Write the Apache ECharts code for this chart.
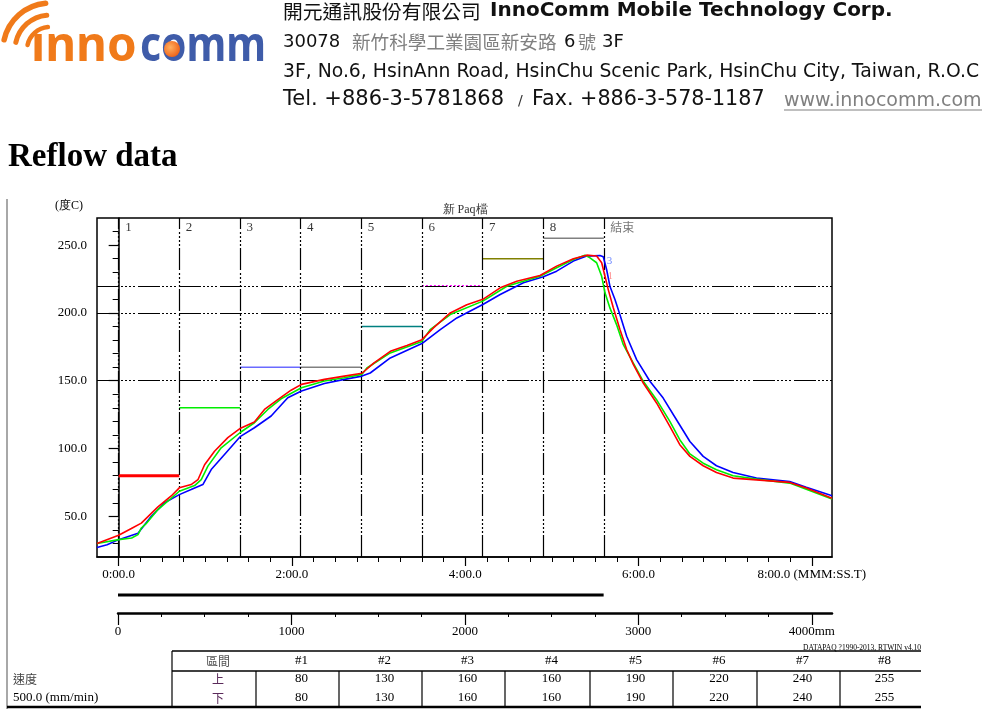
<!DOCTYPE html>
<html><head><meta charset="utf-8">
<script src="https://cdn.jsdelivr.net/npm/echarts@6/dist/echarts.min.js"></script>
<style>html,body{margin:0;padding:0;background:#fff;}#c{width:989px;height:709px;}</style>
</head><body><div id="c"></div>
<script>
// ---------- data ----------
const zoneNames = ['1','2','3','4','5','6','7','8'];
const endZoneName = '結束';
const tableHeads = ['#1','#2','#3','#4','#5','#6','#7','#8'];
const upperTemps = [80,130,160,160,190,220,240,255];
const lowerTemps = [80,130,160,160,190,220,240,255];
const conveyorSpeed = 500;      // mm/min
const zoneLengthMm = 350;
const refTemps = [150,200,220];
const timeLabelValues = [0,120,240,360,480];
const timeLabels = ['0:00.0','2:00.0','4:00.0','6:00.0','8:00.0 (MMM:SS.T)'];
const distLabelValues = [0,1000,2000,3000,4000];
const distLabels = ['0','1000','2000','3000','4000mm'];
const tempLabelValues = [50,100,150,200,250];
const timeMin = -15, timeMax = 494, tempMin = 20, tempMax = 270;

const redTime  = [-15,0,8.8,15.7,27.2,36.4,42,50.2,54.9,59.5,66.4,75.6,84.4,94,101,110.2,119.4,126.6,142.5,156.3,168.5,176.6,188.1,199.6,210,218,229.6,241.1,252.2,264.2,275.7,291.8,303.3,314.9,324.1,331,334.5,336.8,339.1,342.5,347.1,351.8,356.4,363.3,372.5,381.7,388.6,395.6,404.8,414,425.5,441.7,464.7,476.2,494];
const redTemp  = [30,36,41,45,57,65,71,73.4,77,88,98,108,115,119.5,128.8,136,143,147.3,151,153.4,155.5,163,171.7,176,180.3,189,200,206,210,218.5,223.4,227.6,234.5,240,242.6,242,237,227,217,204,188,173,162,148.3,133.6,116.3,102.8,94.2,87.3,82.3,78.2,76.9,75,70.8,63.4];
const greenTime = [-15,0,9,13.4,15.7,19,27.2,42,52.6,57.2,61.8,71,84.4,94,103.3,112.5,126.6,142.5,156.3,168.5,171.9,188.1,210,215.7,229.6,252.2,268.8,291.8,303.3,314.9,322.9,326.4,331,334.5,336.8,340.2,344.8,349.5,356.4,363.3,372.5,381.7,388.6,395.6,404.8,414,425.5,441.7,464.7,476.2,494];
const greenTemp = [30,32.8,34,36.5,41.4,44.6,55,68.5,72.7,77,87,100.5,112,119,128.8,136.7,144.8,149.8,152.2,154.7,159.4,170.5,179,187.7,198.8,208.7,219.7,227,233.3,239.4,242.6,240.6,237,227,214.8,203.7,191.4,176.6,163,149.6,136,120,106.5,96,89.2,84.3,79.9,77.4,74.5,70,62.7];
const blueTime = [-15,-8,0,13.4,22.6,31.8,42,50.2,58.3,64.1,73.3,84.4,94,105.6,117.1,126.6,142.5,156.3,168.5,174.2,188.1,210,222.7,234.2,252.2,264.2,280.3,294.1,303.3,314.9,324.1,333.3,335.6,337.9,340.2,343.7,347.1,351.8,358.7,367.9,377.1,386.3,395.6,404.8,414,425.5,441.7,464.7,476.2,494];
const blueTemp = [27,29,32.8,37.5,50,60,66,69.7,73.4,84.5,95.6,109,115.3,124,137.4,142.4,148,151,153.4,155.7,166.8,177.4,187.7,196.3,206.2,213.6,222.2,226.6,230.8,238.2,241.9,242.4,241.4,232,219.7,209.9,198.8,182.8,165.6,149.6,137.2,121.2,105.2,94.2,87.3,82.3,78.2,75.7,71.5,65.1];

// ---------- styles ----------
const zoneColors = ['#ff0000','#00ee00','#6a6aff','#808080','#008080','#ff00ff','#808000','#808080'];
const zoneWidths = [3,1.5,1.5,1.5,1.5,1.5,1.5,1.5];
const zoneDash = ['solid','solid','solid','solid','solid',[2,2],'solid','solid'];
const serif = '"Liberation Serif", "Times New Roman", serif';
const cjk = '"Noto Sans CJK TC", "Noto Sans CJK SC", sans-serif';
const dashPattern = [22,2,2,2,2,2,2,2,2,3];

// ---------- derived ----------
const zoneSec = zoneLengthMm / conveyorSpeed * 60;
const zoneBounds = zoneNames.map((_, i) => i * zoneSec).concat([zoneNames.length * zoneSec]);
const ovenLength = zoneLengthMm * zoneNames.length;
const distMax = timeMax * conveyorSpeed / 60;
const range = (a, b, s) => { const r = []; for (let v = a; v <= b + 1e-9; v += s) r.push(v); return r; };
const pairs = (ts, vs) => ts.map((t, i) => [t, vs[i]]);

const chart = echarts.init(document.getElementById('c'), null, {renderer: 'canvas'});

const series = [];
// reference lines
series.push({
  type: 'line', xAxisIndex: 0, yAxisIndex: 0, data: [], z: 3, silent: true,
  markLine: {
    silent: true, symbol: ['none','none'], label: {show: false}, animation: false,
    lineStyle: {color: '#000', width: 1.2, type: dashPattern},
    emphasis: {disabled: true},
    data: refTemps.map(v => ({yAxis: v})).concat(zoneBounds.map(v => ({xAxis: v})))
  }
});
// setpoint segments
upperTemps.forEach((v, i) => {
  series.push({
    type: 'line', xAxisIndex: 0, yAxisIndex: 0, showSymbol: false, silent: true, z: i === 5 ? 2 : 4,
    data: [[zoneBounds[i], v], [zoneBounds[i + 1], v]],
    lineStyle: {color: zoneColors[i], width: zoneWidths[i], type: zoneDash[i]}
  });
});
// zone labels
series.push({
  type: 'scatter', xAxisIndex: 0, yAxisIndex: 0, symbolSize: 1, itemStyle: {color: 'rgba(0,0,0,0)'}, silent: true, z: 6,
  data: zoneBounds.map((b, i) => ({
    value: [b, tempMax - 7],
    label: {show: true, position: 'right', distance: 6,
      formatter: i < zoneNames.length ? zoneNames[i] : endZoneName,
      fontFamily: i < zoneNames.length ? serif : cjk,
      fontSize: i < zoneNames.length ? 13 : 12,
      color: i < zoneNames.length ? '#000' : '#555'}
  }))
});
// curves
[['#ff0000', redTime, redTemp], ['#00ee00', greenTime, greenTemp], ['#0000ff', blueTime, blueTemp]].forEach(([c, ts, vs], k) => {
  series.push({
    type: 'line', xAxisIndex: 0, yAxisIndex: 0, showSymbol: false, silent: true, z: 10 + (2 - k),
    data: pairs(ts, vs), lineStyle: {color: c, width: 1.6}
  });
});
// curve tags
series.push({
  type: 'scatter', xAxisIndex: 0, yAxisIndex: 0, symbolSize: 1, itemStyle: {color: 'rgba(0,0,0,0)'}, silent: true, z: 14,
  data: [
    {value: [340, 238], label: {show: true, formatter: '3', position: 'inside', color: '#4a6aff', fontSize: 11, fontFamily: serif}},
    {value: [340.5, 227], label: {show: true, formatter: '1', position: 'inside', color: '#ff7070', fontSize: 10, fontFamily: serif}}
  ]
});
// oven length bar
series.push({
  type: 'line', xAxisIndex: 4, yAxisIndex: 3, showSymbol: false, silent: true,
  data: [[0, 0], [ovenLength, 0]], lineStyle: {color: '#000', width: 3}
});

// ---------- graphic: header, logo, table ----------
const g = [];
g.push({type: 'line', shape: {x1: 7, y1: 199, x2: 7, y2: 709}, style: {stroke: '#a8a8a8', lineWidth: 2}});
[[47, 5.5], [35, 5], [23, 4.5]].forEach(([r, w]) => {
  g.push({type: 'arc', shape: {cx: 50, cy: 50, r: r, startAngle: 3.36, endAngle: 4.62, clockwise: true},
    style: {stroke: '#f07a1a', lineWidth: w, fill: 'none', lineCap: 'round'}});
});
g.push({type: 'text', x: 31, y: 47, scaleX: 0.99, style: {text: 'ınno', font: 'bold 48px "Noto Sans"', fill: '#f07a1a', textVerticalAlign: 'middle'}});
g.push({type: 'text', x: 140, y: 47, scaleX: 0.85, style: {text: 'comm', font: 'bold 48px "Noto Sans"', fill: '#3f5ca9', textVerticalAlign: 'middle'}});
g.push({type: 'circle', shape: {cx: 172, cy: 49, r: 8}, style: {fill: {type: 'radial', x: 0.4, y: 0.4, r: 0.7, colorStops: [{offset: 0, color: '#ffb060'}, {offset: 1, color: '#ee5a10'}]}}});

const hdr = (text, x, y, font, fill, align) => g.push({type: 'text', x: x, y: y, style: {text: text, font: font, fill: fill || '#111', textAlign: align || 'left', textVerticalAlign: 'middle'}});
hdr('開元通訊股份有限公司', 283, 11, '19.8px ' + cjk, '#111');
hdr('InnoComm Mobile Technology Corp.', 490, 11, 'bold 20px "DejaVu Sans"', '#111');
hdr('30078', 283, 42, '18px "DejaVu Sans"', '#111');
hdr('新竹科學工業園區新安路', 352, 42, '18.6px ' + cjk, '#808080');
hdr('6', 564, 42, '18px "DejaVu Sans"', '#111');
hdr('號', 578, 42, '18px ' + cjk, '#808080');
hdr('3F', 602, 42, '18px "DejaVu Sans"', '#111');
hdr('3F, No.6, HsinAnn Road, HsinChu Scenic Park, HsinChu City, Taiwan, R.O.C', 283, 72, '18.8px "DejaVu Sans"', '#111');
hdr('Tel. +886-3-5781868', 283, 100, '21px "DejaVu Sans"', '#111');
hdr('/', 518, 101, '14px "DejaVu Sans"', '#333');
hdr('Fax. +886-3-578-1187', 532, 100, '20.7px "DejaVu Sans"', '#111');
hdr('www.innocomm.com', 784, 101, '19px "DejaVu Sans"', '#808080');
g.push({type: 'line', shape: {x1: 784, y1: 110, x2: 982, y2: 110}, style: {stroke: '#808080', lineWidth: 1.2}});
hdr('Reflow data', 8, 157, 'bold 33px ' + serif, '#000');

// chart captions
hdr('(度C)', 55, 206, '12px ' + serif, '#000');
hdr('新 Paq檔', 465, 210, '12px ' + serif, '#333', 'center');

// table
const colX = [172, 256, 339, 422, 505, 590, 673, 757, 840, 921];
const yTop = 651, yHead = 671, yBot = 707;
g.push({type: 'line', shape: {x1: colX[0], y1: yTop, x2: 921, y2: yTop}, style: {stroke: '#000', lineWidth: 1.5}});
g.push({type: 'line', shape: {x1: colX[0], y1: yHead, x2: 921, y2: yHead}, style: {stroke: '#000', lineWidth: 1.5}});
g.push({type: 'line', shape: {x1: 7, y1: yBot, x2: 921, y2: yBot}, style: {stroke: '#000', lineWidth: 2.5}});
g.push({type: 'line', shape: {x1: colX[0], y1: yTop, x2: colX[0], y2: yBot}, style: {stroke: '#000', lineWidth: 1.2}});
for (let i = 1; i < colX.length - 1; i++) {
  g.push({type: 'line', shape: {x1: colX[i], y1: yHead, x2: colX[i], y2: yBot}, style: {stroke: '#000', lineWidth: 1.2}});
}
const cx = i => (colX[i] + colX[i + 1]) / 2 + 4;
hdr('區間', cx(0), 661, '12px ' + cjk, '#555', 'center');
hdr('上', cx(0), 679, '12px ' + cjk, '#5a2a5a', 'center');
hdr('下', cx(0), 698, '12px ' + cjk, '#5a2a5a', 'center');
tableHeads.forEach((h, i) => {
  hdr(h, cx(i + 1), 661, '13px ' + serif, '#000', 'center');
  hdr(String(upperTemps[i]), cx(i + 1), 679, '13px ' + serif, '#000', 'center');
  hdr(String(lowerTemps[i]), cx(i + 1), 698, '13px ' + serif, '#000', 'center');
});
hdr('速度', 13, 679, '12px ' + cjk, '#444');
hdr(conveyorSpeed.toFixed(1) + ' (mm/min)', 13, 698, '13px ' + serif, '#000');
hdr('DATAPAQ ?1990-2013, RTWIN v4.10', 921, 648, '7.5px ' + serif, '#000', 'right');

const axisFont = {fontFamily: serif, fontSize: 13, color: '#000'};

const option = {
  animation: false,
  backgroundColor: '#fff',
  grid: [
    {left: 97, top: 218, width: 735, height: 339, show: true, borderColor: '#000', borderWidth: 1.5, backgroundColor: 'transparent'},
    {left: 118, top: 600, width: 714, height: 13},
    {left: 118, top: 594, width: 714, height: 2}
  ],
  xAxis: [
    {type: 'value', gridIndex: 0, min: timeMin, max: timeMax, position: 'bottom',
      axisLine: {show: true, lineStyle: {color: '#000', width: 1.5}},
      axisTick: {show: true, length: 5, customValues: range(0, 480, 15), lineStyle: {color: '#000'}},
      axisLabel: Object.assign({margin: 11, customValues: timeLabelValues,
        formatter: v => { const i = timeLabelValues.indexOf(v); return i >= 0 ? timeLabels[i] : ''; }}, axisFont),
      splitLine: {show: false}},
    {type: 'value', gridIndex: 0, min: timeMin, max: timeMax, position: 'bottom',
      axisLine: {show: false}, axisTick: {show: true, length: 9, customValues: timeLabelValues, lineStyle: {color: '#000', width: 1.2}},
      axisLabel: {show: false}, splitLine: {show: false}},
    {type: 'value', gridIndex: 1, min: 0, max: distMax, position: 'bottom',
      axisLine: {show: true, lineStyle: {color: '#000', width: 2.5}},
      axisTick: {show: true, length: 4, customValues: range(0, 4000, 250), lineStyle: {color: '#000'}},
      axisLabel: Object.assign({margin: 12, customValues: distLabelValues,
        formatter: v => { const i = distLabelValues.indexOf(v); return i >= 0 ? distLabels[i] : ''; }}, axisFont),
      splitLine: {show: false}},
    {type: 'value', gridIndex: 1, min: 0, max: distMax, position: 'bottom',
      axisLine: {show: false}, axisTick: {show: true, length: 12, customValues: distLabelValues, lineStyle: {color: '#000', width: 1.2}},
      axisLabel: {show: false}, splitLine: {show: false}},
    {type: 'value', gridIndex: 2, min: 0, max: distMax, show: false}
  ],
  yAxis: [
    {type: 'value', gridIndex: 0, min: tempMin, max: tempMax, position: 'left',
      axisLine: {show: true, lineStyle: {color: '#000', width: 1.5}},
      axisTick: {show: true, length: 6, customValues: range(30, 260, 10), lineStyle: {color: '#000'}},
      axisLabel: Object.assign({margin: 10, customValues: tempLabelValues, formatter: v => v.toFixed(1)}, axisFont),
      splitLine: {show: false}},
    {type: 'value', gridIndex: 0, min: tempMin, max: tempMax, position: 'left',
      axisLine: {show: false}, axisTick: {show: true, length: 10, customValues: tempLabelValues, lineStyle: {color: '#000', width: 1.2}},
      axisLabel: {show: false}, splitLine: {show: false}},
    {type: 'value', gridIndex: 1, min: 0, max: 1, show: false},
    {type: 'value', gridIndex: 2, min: -1, max: 1, show: false}
  ],
  series: series,
  graphic: g
};
chart.setOption(option);
</script>
</body></html>
